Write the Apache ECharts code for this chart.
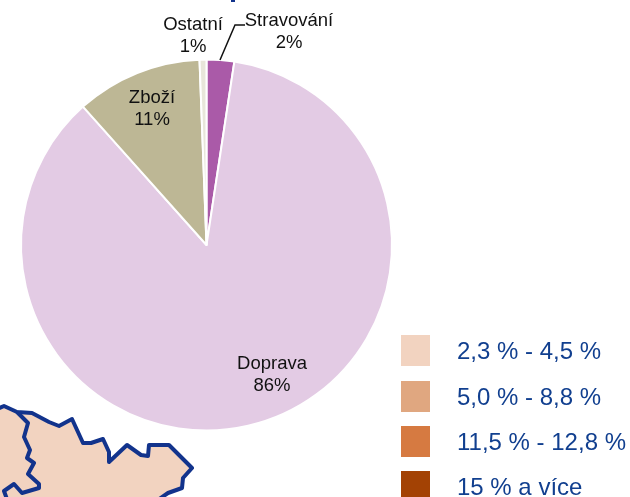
<!DOCTYPE html>
<html>
<head>
<meta charset="utf-8">
<style>
  html, body { margin: 0; padding: 0; background: #fff; }
  #chart { width: 630px; height: 497px; }
</style>
<script src="https://cdn.jsdelivr.net/npm/echarts@6/dist/echarts.min.js"></script>
</head>
<body>
<div id="chart"></div>
<script>
const sliceNames = ['Stravování', 'Doprava', 'Zboží', 'Ostatní']
const sliceValues = [2.4, 86, 11, 0.6]
const sliceShown = ['2%', '86%', '11%', '1%']
const sliceColors = ['#aa5aa8', '#e3cbe4', '#bdb795', '#e8e6da']
const labelSpots = [[289, 32], [272, 375], [152, 109], [193, 36]]

const legendLabels = ['2,3 % - 4,5 %', '5,0 % - 8,8 %', '11,5 % - 12,8 %', '15 % a více']
const legendColors = ['#f2d3c0', '#e0a780', '#d67a41', '#a34204']
const legendTops = [335, 381, 426, 471]

// kousek mapy vlevo dole
const mapOutline = [[-5, 410], [4, 406], [17, 412], [32, 413], [49, 422], [59, 426], [72, 419], [83, 443], [91, 443], [103, 439], [109, 452], [109, 462], [127, 445], [141, 455], [148, 456], [149, 445], [169, 445], [192, 468], [183, 478], [182, 488], [168, 493], [155, 502], [-5, 502]]
const mapInner = [[17, 412], [28, 423], [24, 437], [30, 450], [27, 458], [34, 463], [28, 474], [39, 484], [39, 488], [22, 493], [14, 484], [4, 491], [8, 502]]

const chart = echarts.init(document.getElementById('chart'), null, { renderer: 'canvas' })

const graphics = [
  { type: 'polygon', z: 1, shape: { points: mapOutline }, style: { fill: '#f2d3c0', stroke: '#12338c', lineWidth: 4, lineJoin: 'round' } },
  { type: 'polyline', z: 1, shape: { points: mapInner }, style: { fill: null, stroke: '#12338c', lineWidth: 4, lineJoin: 'round' } },
  { type: 'rect', z: 1, shape: { x: 231, y: 0, width: 4, height: 2 }, style: { fill: '#12338c' } },
  { type: 'polyline', z: 5, shape: { points: [[220, 60], [235, 25], [245, 25]] }, style: { fill: null, stroke: '#111', lineWidth: 1.5 } }
]
legendLabels.forEach((name, i) => {
  graphics.push({ type: 'rect', z: 1, shape: { x: 401, y: legendTops[i], width: 29, height: 31 }, style: { fill: legendColors[i] } })
  graphics.push({ type: 'text', z: 1, style: { x: 457, y: legendTops[i] + 17, text: name, fill: '#113f8f', font: '24px "Liberation Sans"', textVerticalAlign: 'middle' } })
})

chart.setOption({
  animation: false,
  backgroundColor: '#fff',
  graphic: graphics,
  series: [
    {
      type: 'pie',
      z: 3,
      center: [206.5, 245],
      radius: [0, 185.5],
      startAngle: 90,
      clockwise: true,
      silent: true,
      itemStyle: { borderColor: '#fff', borderWidth: 2 },
      label: {
        show: true,
        position: 'inside',
        color: '#111',
        fontFamily: 'Liberation Sans',
        fontSize: 18.5,
        lineHeight: 22,
        align: 'center',
        formatter: p => p.name + '\n' + sliceShown[p.dataIndex]
      },
      labelLine: { show: false },
      labelLayout: p => ({ x: labelSpots[p.dataIndex][0], y: labelSpots[p.dataIndex][1], align: 'center', verticalAlign: 'middle' }),
      data: sliceNames.map((name, i) => ({ name, value: sliceValues[i], itemStyle: { color: sliceColors[i] } }))
    }
  ]
})
</script>
</body>
</html>
